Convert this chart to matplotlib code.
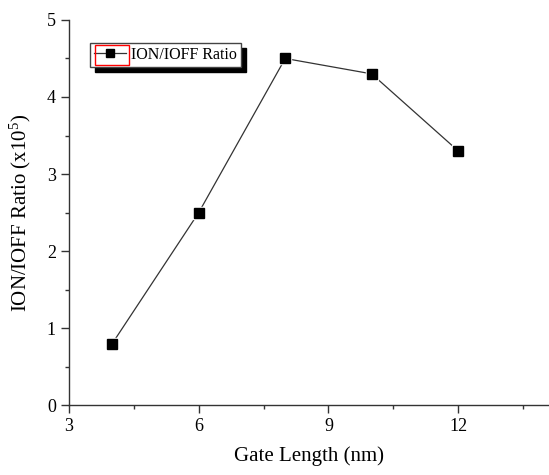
import matplotlib
matplotlib.use("Agg")
import matplotlib.pyplot as plt
from matplotlib.patches import Rectangle
from matplotlib.ticker import MultipleLocator

gate_length = [4, 6, 8, 10, 12]
ratio = [0.8, 2.5, 4.5, 4.3, 3.3]

plt.rcParams["font.family"] = "Liberation Serif"
plt.rcParams["mathtext.fontset"] = "custom"
plt.rcParams["mathtext.rm"] = "Liberation Serif"
plt.rcParams["mathtext.it"] = "Liberation Serif:italic"

fig = plt.figure(figsize=(5.49, 4.75), dpi=100)
ax = fig.add_axes([0.1257, 0.147, 0.8743, 0.811])

# line, then white squares to leave a small gap, then the black markers
ax.plot(gate_length, ratio, color="#333333", lw=0.9, zorder=2)
ax.plot(gate_length, ratio, ls="none", marker="s", ms=8.5, mfc="white", mec="white", zorder=3)
ax.plot(gate_length, ratio, ls="none", marker="s", ms=6.5, mfc="black", mec="black", zorder=4)
proxy, = ax.plot([], [], color="#333333", lw=0.9, marker="s", ms=6, mfc="black", mec="black")

ax.set_xlim(3, 14.1)
ax.set_ylim(0, 5)
ax.xaxis.set_major_locator(MultipleLocator(3))
ax.xaxis.set_minor_locator(MultipleLocator(1.5))
ax.yaxis.set_major_locator(MultipleLocator(1))
ax.yaxis.set_minor_locator(MultipleLocator(0.5))
ax.spines["top"].set_visible(False)
ax.spines["right"].set_visible(False)
for s in ("left", "bottom"):
    ax.spines[s].set_color("#333333")
    ax.spines[s].set_linewidth(1.0)
ax.tick_params(which="major", direction="out", length=6, width=1, labelsize=13, colors="#333333", labelcolor="black")
ax.tick_params(which="minor", direction="out", length=3, width=1, colors="#333333")

ax.set_xlabel("Gate Length (nm)", fontsize=15, labelpad=8)
ax.set_ylabel("ION/IOFF Ratio (x10$^{5}$)", fontsize=15, labelpad=10)

leg = ax.legend([proxy], ["ION/IOFF Ratio"], loc="upper left", bbox_to_anchor=(0.044, 0.94), fontsize=11.5,
                frameon=True, fancybox=False, edgecolor="#444444",
                shadow={"color": "black", "alpha": 1, "ox": 3.5, "oy": -3.5},
                handlelength=2.0, borderpad=0.25, handletextpad=0.3, borderaxespad=0)
leg.get_frame().set_linewidth(1.0)

# red selection box around the legend symbol
fig.canvas.draw()
tb = leg.get_texts()[0].get_window_extent()
fb = leg.get_frame().get_window_extent()
x0 = fb.x0 + 5
y0 = tb.y0 - 2
fig.patches.append(Rectangle((x0 / fig.bbox.width, y0 / fig.bbox.height),
                             (tb.x0 - 2 - x0) / fig.bbox.width, (tb.height + 4) / fig.bbox.height,
                             transform=fig.transFigure, fill=False, edgecolor="red", lw=1, zorder=10))

fig.savefig("out.png", dpi=100)
